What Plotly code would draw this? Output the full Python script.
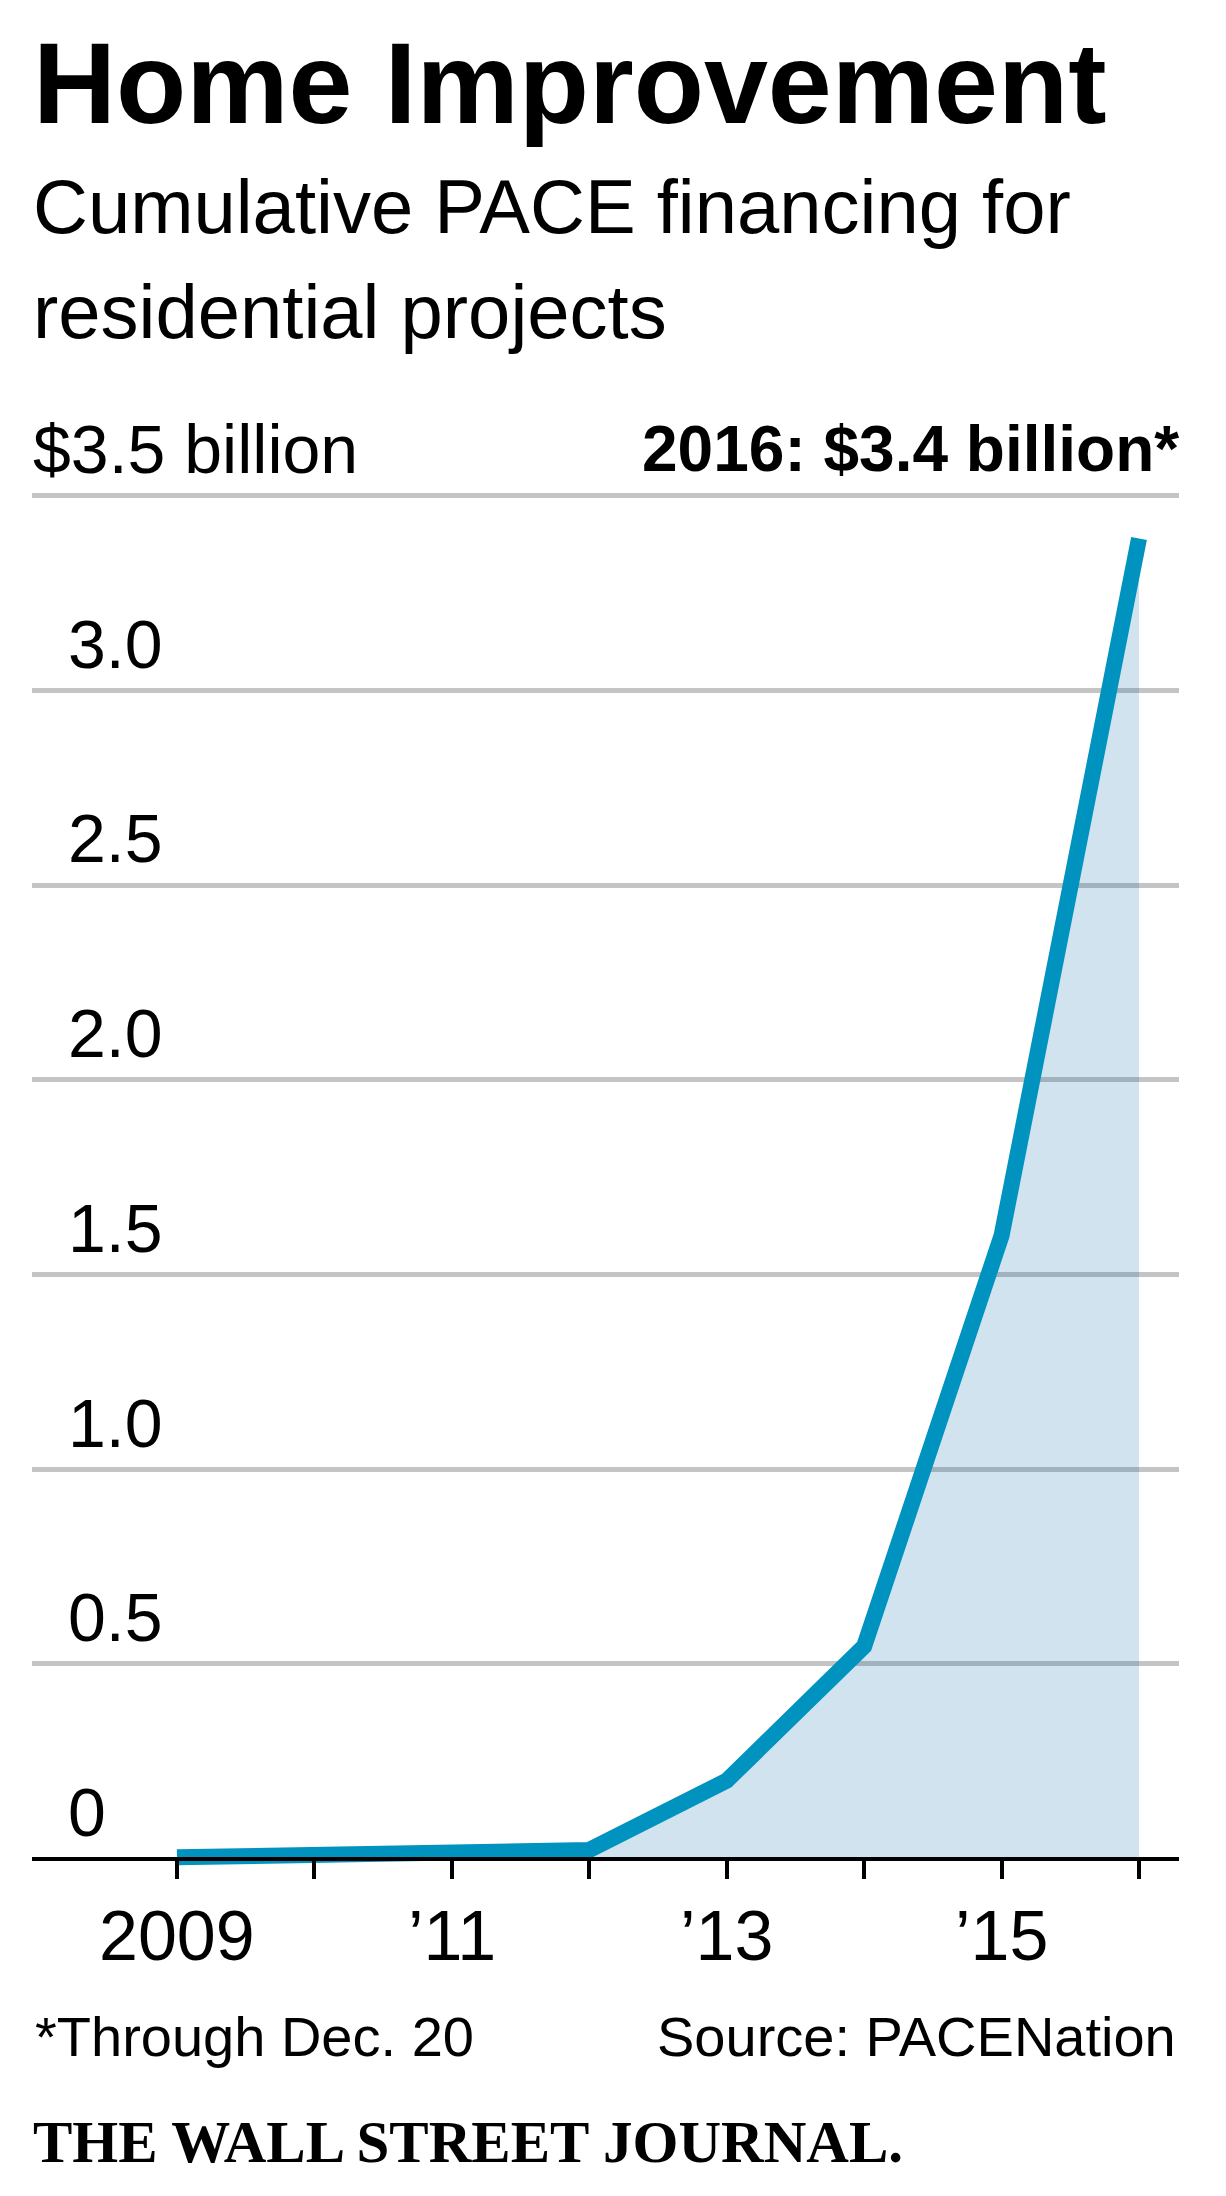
import plotly.graph_objects as go

# ---- data ----
YEARS = [2009, 2010, 2011, 2012, 2013, 2014, 2015, 2016]
FINANCING = [0.003, 0.007, 0.012, 0.022, 0.20, 0.545, 1.60, 3.39]  # $ billion, cumulative
X_TICK_VALS = [2009, 2010, 2011, 2012, 2013, 2014, 2015, 2016]
X_LABEL_VALS = [2009, 2011, 2013, 2015]
X_LABEL_TEXT = ["2009", "\u201911", "\u201913", "\u201915"]
Y_GRID_VALS = [0.5, 1.0, 1.5, 2.0, 2.5, 3.0, 3.5]
Y_LABEL_VALS = [0, 0.5, 1.0, 1.5, 2.0, 2.5, 3.0, 3.5]
Y_LABEL_TEXT = ["0", "0.5", "1.0", "1.5", "2.0", "2.5", "3.0", "$3.5 billion"]

TITLE = "Home Improvement"
SUBTITLE_1 = "Cumulative PACE financing for"
SUBTITLE_2 = "residential projects"
CALLOUT = "2016: $3.4 billion*"
NOTE = "*Through Dec. 20"
SOURCE = "Source: PACENation"
BRAND = "THE WALL STREET JOURNAL."

# ---- layout geometry (page pixels; the page body adds an 8px offset) ----
OFF = 8
W, H = 1210, 2180
PLOT_LEFT, PLOT_RIGHT = 32 - OFF, 1179 - OFF
PLOT_TOP, PLOT_BOTTOM = 484 - OFF, 1878 - OFF
ML, MR, MT, MB = PLOT_LEFT, W - PLOT_RIGHT, PLOT_TOP, H - PLOT_BOTTOM
Y_RANGE = [-0.05, 3.53]
X_RANGE = [2007.945, 2016.291]
PLOT_H = H - MT - MB
PLOT_W = W - ML - MR

SANS = "Liberation Sans, Arial, sans-serif"
SERIF = "Liberation Serif, Times New Roman, serif"
LINE_COLOR = "#0093bf"
FILL_COLOR = "rgba(0,99,166,0.18)"
GRID_COLOR = "#c4c4c4"


def pyp(page_px):
    return (PLOT_BOTTOM - (page_px - OFF)) / PLOT_H


def pxp(page_px):
    return ((page_px - OFF) - PLOT_LEFT) / PLOT_W


def text_ann(text, x_px, baseline_px, size, family, xanchor="left", bold=False, descent=0.212):
    if bold:
        text = "<b>" + text + "</b>"
    return dict(
        text=text, xref="paper", yref="paper",
        x=pxp(x_px), y=pyp(baseline_px + descent * size + 2),
        xanchor=xanchor, yanchor="bottom", showarrow=False,
        font=dict(family=family, size=size, color="black"),
    )


fig = go.Figure()
fig.add_trace(go.Scatter(
    x=YEARS, y=FINANCING, mode="lines",
    line=dict(color=LINE_COLOR, width=16),
    fill="tozeroy", fillcolor=FILL_COLOR,
    hoverinfo="skip",
))

annotations = [
    text_ann(TITLE, 31, 123, 115, SANS, bold=True),
    text_ann(SUBTITLE_1, 31, 233, 76, SANS),
    text_ann(SUBTITLE_2, 31, 338, 76, SANS),
    text_ann(CALLOUT, 1181, 471, 64, SANS, xanchor="right", bold=True),
    text_ann(NOTE, 33, 2056, 56, SANS),
    text_ann(SOURCE, 1178, 2056, 56, SANS, xanchor="right"),
    text_ann(BRAND, 31, 2162, 59, SERIF, bold=True, descent=0.216),
]

fs_y = 68
for v, t in zip(Y_LABEL_VALS, Y_LABEL_TEXT):
    x_px = 31 if t.startswith("$") else 66
    annotations.append(dict(
        text=t, xref="paper", yref="y", x=pxp(x_px), y=v,
        xanchor="left", yanchor="bottom", yshift=23 - 0.212 * fs_y - 2,
        showarrow=False, font=dict(family=SANS, size=fs_y, color="black"),
    ))

fs_x = 70
for v, t in zip(X_LABEL_VALS, X_LABEL_TEXT):
    annotations.append(dict(
        text=t, xref="x", yref="paper", x=v, y=pyp(1960 + 0.212 * fs_x + 2),
        xanchor="center", yanchor="bottom", showarrow=False,
        font=dict(family=SANS, size=fs_x, color="black"),
    ))

fig.update_layout(
    width=W, height=H,
    margin=dict(l=ML, r=MR, t=MT, b=MB, pad=0),
    paper_bgcolor="white", plot_bgcolor="white",
    showlegend=False,
    annotations=annotations,
    xaxis=dict(
        range=X_RANGE, tickmode="array", tickvals=X_TICK_VALS,
        showticklabels=False,
        ticks="outside", ticklen=18, tickwidth=4, tickcolor="black",
        showline=True, linecolor="black", linewidth=4,
        showgrid=False, zeroline=False,
        anchor="free", position=(0 - Y_RANGE[0]) / (Y_RANGE[1] - Y_RANGE[0]),
        fixedrange=True,
    ),
    yaxis=dict(
        range=Y_RANGE, tickmode="array", tickvals=Y_GRID_VALS,
        showticklabels=False, ticks="",
        showgrid=True, gridcolor=GRID_COLOR, gridwidth=5,
        zeroline=False, showline=False, fixedrange=True,
    ),
)

fig.write_html("out.html")
